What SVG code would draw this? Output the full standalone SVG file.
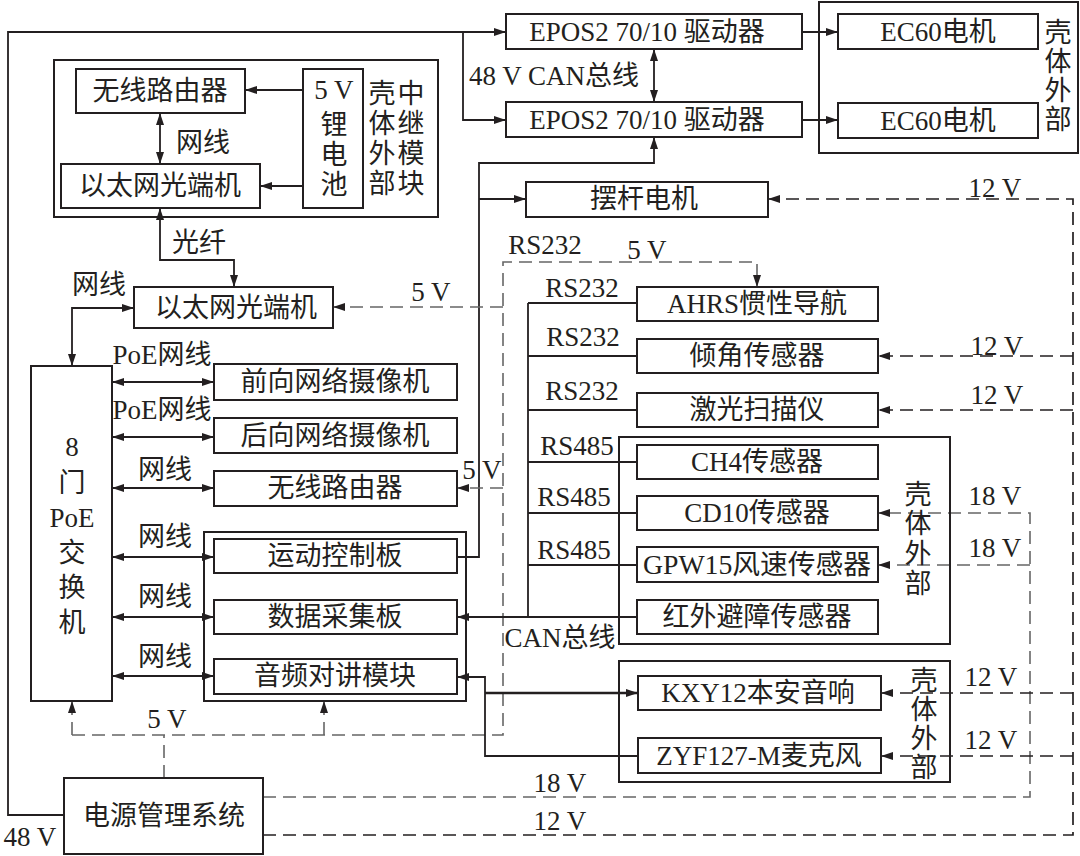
<svg xmlns="http://www.w3.org/2000/svg" width="1080" height="856" viewBox="0 0 1080 856">
<defs>
<style>
.box{fill:#fff;stroke:#231f20;stroke-width:2}
.frame{fill:none;stroke:#231f20;stroke-width:2}
.ln{fill:none;stroke:#231f20;stroke-width:1.8}
.d5{fill:none;stroke:#666;stroke-width:1.6;stroke-dasharray:13 7}
.d12{fill:none;stroke:#231f20;stroke-width:1.7;stroke-dasharray:13 7}
text{font-family:"Liberation Serif","Noto Sans CJK SC",serif;font-size:27px;fill:#231f20}
.c{text-anchor:middle}
</style>
<marker id="ah" viewBox="0 0 12 8" refX="12" refY="4" markerWidth="12" markerHeight="8" markerUnits="userSpaceOnUse" orient="auto-start-reverse">
<path d="M0,0 L12,4 L0,8 z" fill="#231f20"/>
</marker>
</defs>
<rect width="1080" height="856" fill="#fff"/>

<g id="connectors">
<path class="ln" d="M64,815 H8 V32 H506" marker-end="url(#ah)"/>
<path class="ln" d="M463,32 V120 H506" marker-end="url(#ah)"/>
<path class="ln" d="M654,49 V102" marker-start="url(#ah)" marker-end="url(#ah)"/>
<path class="ln" d="M802,32 H838" marker-end="url(#ah)"/>
<path class="ln" d="M802,120 H838" marker-end="url(#ah)"/>
<path class="ln" d="M457,557 H479 V163 H654 V137" marker-end="url(#ah)"/>
<path class="ln" d="M479,199 H526" marker-end="url(#ah)"/>
<path class="ln" d="M303,90 H245" marker-end="url(#ah)"/>
<path class="ln" d="M303,186 H260" marker-end="url(#ah)"/>
<path class="ln" d="M160,113 V164" marker-start="url(#ah)" marker-end="url(#ah)"/>
<path class="ln" d="M160,208 V260 H234 V287" marker-start="url(#ah)" marker-end="url(#ah)"/>
<path class="ln" d="M134,308 H72 V366" marker-start="url(#ah)" marker-end="url(#ah)"/>
<path class="ln" d="M112,382 H214" marker-start="url(#ah)" marker-end="url(#ah)"/>
<path class="ln" d="M112,437 H214" marker-start="url(#ah)" marker-end="url(#ah)"/>
<path class="ln" d="M112,488 H214" marker-start="url(#ah)" marker-end="url(#ah)"/>
<path class="ln" d="M112,557 H214" marker-start="url(#ah)" marker-end="url(#ah)"/>
<path class="ln" d="M112,617 H214" marker-start="url(#ah)" marker-end="url(#ah)"/>
<path class="ln" d="M112,676 H214" marker-start="url(#ah)" marker-end="url(#ah)"/>
<path class="d5" d="M164,778 V735"/>
<path class="d5" d="M72,735 H503 V262 H757 V287" marker-end="url(#ah)"/>
<path class="d5" d="M72,735 V701" marker-end="url(#ah)"/>
<path class="d5" d="M324,735 V701" marker-end="url(#ah)"/>
<path class="d5" d="M503,488 H457" marker-end="url(#ah)"/>
<path class="d5" d="M503,307 H333" marker-end="url(#ah)"/>
<path class="ln" d="M528,303 V617"/>
<path class="ln" d="M528,303 H637"/>
<path class="ln" d="M528,356 H637"/>
<path class="ln" d="M528,410 H637"/>
<path class="ln" d="M528,462 H637"/>
<path class="ln" d="M528,513 H637"/>
<path class="ln" d="M528,565 H637"/>
<path class="ln" d="M637,617 H457" marker-end="url(#ah)"/>
<path class="ln" d="M638,756 H485 V677 H457" marker-end="url(#ah)"/>
<path class="ln" d="M485,693 H638" marker-end="url(#ah)" style="stroke-width:2.4"/>
<path class="d5" d="M263,797 H1030 V513 H878" marker-end="url(#ah)"/>
<path class="d5" d="M1030,565 H878" marker-end="url(#ah)"/>
<path class="d12" d="M263,835 H1073 V199 H768" marker-end="url(#ah)"/>
<path class="d12" d="M1073,356 H878" marker-end="url(#ah)"/>
<path class="d12" d="M1073,410 H878" marker-end="url(#ah)"/>
<path class="d12" d="M1073,693 H881" marker-end="url(#ah)"/>
<path class="d12" d="M1073,756 H881" marker-end="url(#ah)"/>
</g>

<g id="labels">
<text class="c" x="554" y="85">48 V CAN总线</text>
<text class="c" x="203" y="152">网线</text>
<text class="c" x="199" y="252">光纤</text>
<text class="c" x="99" y="294">网线</text>
<text class="c" x="431" y="301">5 V</text>
<text class="c" x="545" y="254">RS232</text>
<text class="c" x="647" y="259">5 V</text>
<text class="c" x="995" y="197">12 V</text>
<text class="c" x="162" y="364">PoE网线</text>
<text class="c" x="162" y="419">PoE网线</text>
<text class="c" x="165" y="479">网线</text>
<text class="c" x="165" y="546">网线</text>
<text class="c" x="165" y="606">网线</text>
<text class="c" x="165" y="666">网线</text>
<text class="c" x="482" y="479">5 V</text>
<text class="c" x="582" y="297">RS232</text>
<text class="c" x="583" y="346">RS232</text>
<text class="c" x="582" y="400">RS232</text>
<text class="c" x="577" y="455">RS485</text>
<text class="c" x="574" y="506">RS485</text>
<text class="c" x="574" y="559">RS485</text>
<text class="c" x="560" y="647">CAN总线</text>
<text class="c" x="997" y="355">12 V</text>
<text class="c" x="997" y="404">12 V</text>
<text class="c" x="995" y="505">18 V</text>
<text class="c" x="995" y="557">18 V</text>
<text class="c" x="991" y="686">12 V</text>
<text class="c" x="991" y="749">12 V</text>
<text class="c" x="167" y="728">5 V</text>
<text class="c" x="560" y="792">18 V</text>
<text class="c" x="560" y="830">12 V</text>
<text class="c" x="30" y="846">48 V</text>
</g>

<g id="relay-module">
<rect class="frame" x="54" y="60" width="384" height="157"/>
<text class="c"><tspan x="382" y="103">壳</tspan><tspan x="382" y="133">体</tspan><tspan x="382" y="163">外</tspan><tspan x="382" y="193">部</tspan></text>
<text class="c"><tspan x="411" y="103">中</tspan><tspan x="411" y="133">继</tspan><tspan x="411" y="163">模</tspan><tspan x="411" y="193">块</tspan></text>
</g>
<g id="relay-router"><rect class="box" x="76" y="69" width="169" height="44"/><text class="c" x="160" y="100">无线路由器</text></g>
<g id="relay-ethernet"><rect class="box" x="61" y="164" width="199" height="44"/><text class="c" x="160" y="195">以太网光端机</text></g>
<g id="battery"><rect class="box" x="303" y="69" width="60" height="139"/>
<text class="c"><tspan x="334" y="99">5 V</tspan><tspan x="334" y="134">锂</tspan><tspan x="334" y="164">电</tspan><tspan x="334" y="194">池</tspan></text></g>

<g id="ethernet"><rect class="box" x="134" y="287" width="199" height="41"/><text class="c" x="236" y="317">以太网光端机</text></g>
<g id="switch"><rect class="box" x="31" y="366" width="81" height="335"/>
<text class="c"><tspan x="72" y="456">8</tspan><tspan x="72" y="492">门</tspan><tspan x="72" y="527">PoE</tspan><tspan x="72" y="562">交</tspan><tspan x="72" y="597">换</tspan><tspan x="72" y="632">机</tspan></text></g>
<g id="cam-front"><rect class="box" x="214" y="364" width="243" height="36"/><text class="c" x="335" y="391">前向网络摄像机</text></g>
<g id="cam-rear"><rect class="box" x="214" y="418" width="243" height="35"/><text class="c" x="335" y="445">后向网络摄像机</text></g>
<g id="router"><rect class="box" x="214" y="471" width="243" height="35"/><text class="c" x="335" y="497">无线路由器</text></g>
<g id="control-group"><rect class="frame" x="204" y="532" width="262" height="169"/></g>
<g id="motion-board"><rect class="box" x="214" y="539" width="243" height="34"/><text class="c" x="335" y="565">运动控制板</text></g>
<g id="data-board"><rect class="box" x="214" y="600" width="243" height="34"/><text class="c" x="335" y="626">数据采集板</text></g>
<g id="audio"><rect class="box" x="214" y="659" width="243" height="35"/><text class="c" x="335" y="685">音频对讲模块</text></g>
<g id="power"><rect class="box" x="64" y="778" width="199" height="76"/><text class="c" x="164" y="825">电源管理系统</text></g>

<g id="epos1"><rect class="box" x="506" y="14" width="296" height="35"/><text class="c" x="647" y="41">EPOS2 70/10 驱动器</text></g>
<g id="epos2"><rect class="box" x="506" y="102" width="296" height="35"/><text class="c" x="647" y="129">EPOS2 70/10 驱动器</text></g>
<g id="motor-group"><rect class="frame" x="819" y="2" width="259" height="151"/>
<text class="c"><tspan x="1058" y="42">壳</tspan><tspan x="1058" y="71">体</tspan><tspan x="1058" y="100">外</tspan><tspan x="1058" y="129">部</tspan></text></g>
<g id="ec60-1"><rect class="box" x="838" y="14" width="200" height="35"/><text class="c" x="938" y="41">EC60电机</text></g>
<g id="ec60-2"><rect class="box" x="838" y="103" width="200" height="35"/><text class="c" x="938" y="130">EC60电机</text></g>
<g id="swing-motor"><rect class="box" x="526" y="182" width="242" height="35"/><text class="c" x="644" y="208">摆杆电机</text></g>

<g id="ahrs"><rect class="box" x="637" y="287" width="241" height="34"/><text class="c" x="757" y="313">AHRS惯性导航</text></g>
<g id="tilt"><rect class="box" x="637" y="339" width="241" height="34"/><text class="c" x="757" y="365">倾角传感器</text></g>
<g id="laser"><rect class="box" x="637" y="393" width="241" height="34"/><text class="c" x="757" y="419">激光扫描仪</text></g>
<g id="gas-group"><rect class="frame" x="619" y="437" width="331" height="207"/>
<text class="c"><tspan x="918" y="504">壳</tspan><tspan x="918" y="533">体</tspan><tspan x="918" y="563">外</tspan><tspan x="918" y="593">部</tspan></text></g>
<g id="ch4"><rect class="box" x="637" y="445" width="241" height="34"/><text class="c" x="757" y="471">CH4传感器</text></g>
<g id="cd10"><rect class="box" x="637" y="496" width="241" height="34"/><text class="c" x="757" y="522">CD10传感器</text></g>
<g id="gpw15"><rect class="box" x="637" y="547" width="241" height="35"/><text class="c" x="757" y="574" textLength="228" lengthAdjust="spacingAndGlyphs">GPW15风速传感器</text></g>
<g id="infrared"><rect class="box" x="637" y="600" width="241" height="34"/><text class="c" x="757" y="626">红外避障传感器</text></g>
<g id="audio-group"><rect class="frame" x="619" y="661" width="331" height="121"/>
<text class="c"><tspan x="924" y="690">壳</tspan><tspan x="924" y="719">体</tspan><tspan x="924" y="748">外</tspan><tspan x="924" y="777">部</tspan></text></g>
<g id="speaker"><rect class="box" x="638" y="676" width="243" height="34"/><text class="c" x="758" y="702">KXY12本安音响</text></g>
<g id="mic"><rect class="box" x="638" y="738" width="243" height="35"/><text class="c" x="759" y="765">ZYF127-M麦克风</text></g>
</svg>
